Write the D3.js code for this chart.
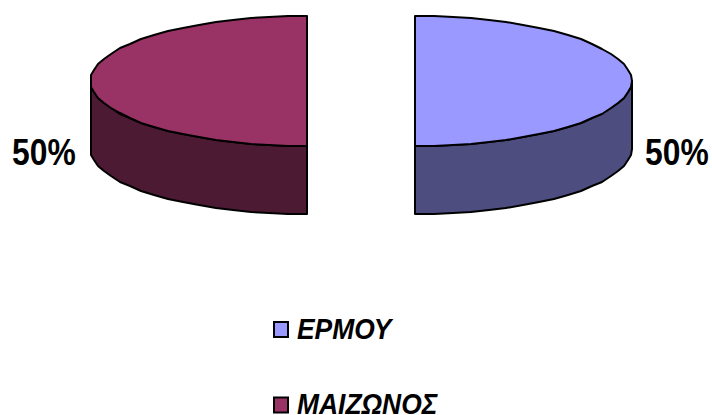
<!DOCTYPE html>
<html>
    <head>
        <meta charset="utf-8">
        <title>Pie</title>
        <script src="https://d3js.org/d3.v7.min.js"></script>
        <style>
            html, body { margin: 0; padding: 0; background: #fff; overflow: hidden; }
            text { font-family: "Liberation Sans", Arial, sans-serif; font-weight: bold; fill: #000; }
        </style>
    </head>
    <body>
        <script type="text/javascript">
            const categories = ['ΕΡΜΟΥ', 'ΜΑΙΖΩΝΟΣ'];
            const values = [50, 50];
            const labels = ['50%', '50%'];
            const topColors = ['#9999ff', '#993366'];
            const sideColors = ['#4d4d80', '#4d1a33'];

            const width = 712;
            const height = 415;
            const rx = 216.5;
            const ry = 65;
            const depth = 68;
            const cx = 361;
            const cy = 81;
            const explode = 54;

            const svg = d3.select('body').append('svg').attr('width', width).attr('height', height);

            const slices = d3.pie().sort(null).value(d => d)(values);

            // angle 0 is up, clockwise, same as d3.pie
            const x = a => rx * Math.sin(a);
            const y = a => -ry * Math.cos(a);
            // whole pixels give the stepped outline of the original
            const line = d3.line().x(d => Math.round(d[0])).y(d => Math.round(d[1]));

            function arcPoints(a0, a1, ox, oy) {
                const n = Math.round(Math.abs(a1 - a0) / Math.PI * 36);
                return d3.range(0, n + 1).map(i => {
                    const a = a0 + (a1 - a0) * i / n;
                    return [ox + x(a), oy + y(a)];
                });
            }

            slices.forEach((s, i) => {
                const dir = Math.sin((s.startAngle + s.endAngle) / 2) > 0 ? 1 : -1;
                const ox = cx + dir * explode;
                const g = svg.append('g');

                // the wall shows only on the front half of the rim
                const front = dir > 0 ? [Math.PI / 2, Math.PI] : [Math.PI, 3 * Math.PI / 2];
                const rim = arcPoints(front[0], front[1], ox, cy);
                const lower = arcPoints(front[1], front[0], ox, cy + depth);
                g.append('path')
                    .attr('d', line(rim.concat(lower)) + 'Z')
                    .attr('fill', sideColors[i])
                    .attr('stroke', '#000').attr('stroke-width', 2).attr('stroke-linejoin', 'round');

                const outline = arcPoints(s.startAngle, s.endAngle, ox, cy);
                g.append('path')
                    .attr('d', line(outline) + 'Z')
                    .attr('fill', topColors[i])
                    .attr('stroke', '#000').attr('stroke-width', 2).attr('stroke-linejoin', 'round');
            });

            svg.selectAll('text.value').data(labels).enter().append('text')
                .attr('class', 'value')
                .attr('transform', (d, i) => `translate(${i === 0 ? 645 : 12},165) scale(0.86,1)`)
                .attr('font-size', 37)
                .text(d => d);

            const legendY = d3.scalePoint().domain(categories).range([329.5, 405]);

            const legend = svg.selectAll('g.legend').data(categories).enter().append('g')
                .attr('class', 'legend')
                .attr('transform', d => `translate(0,${legendY(d)})`);

            legend.append('rect')
                .attr('x', 274).attr('y', -7.5)
                .attr('width', 14).attr('height', 15)
                .attr('fill', (d, i) => topColors[i])
                .attr('stroke', '#000').attr('stroke-width', 2);

            legend.append('text')
                .attr('transform', 'translate(297,9) scale(0.88,1)')
                .attr('font-size', 30)
                .attr('font-style', 'italic')
                .text(d => d);
        </script>
    </body>
</html>
